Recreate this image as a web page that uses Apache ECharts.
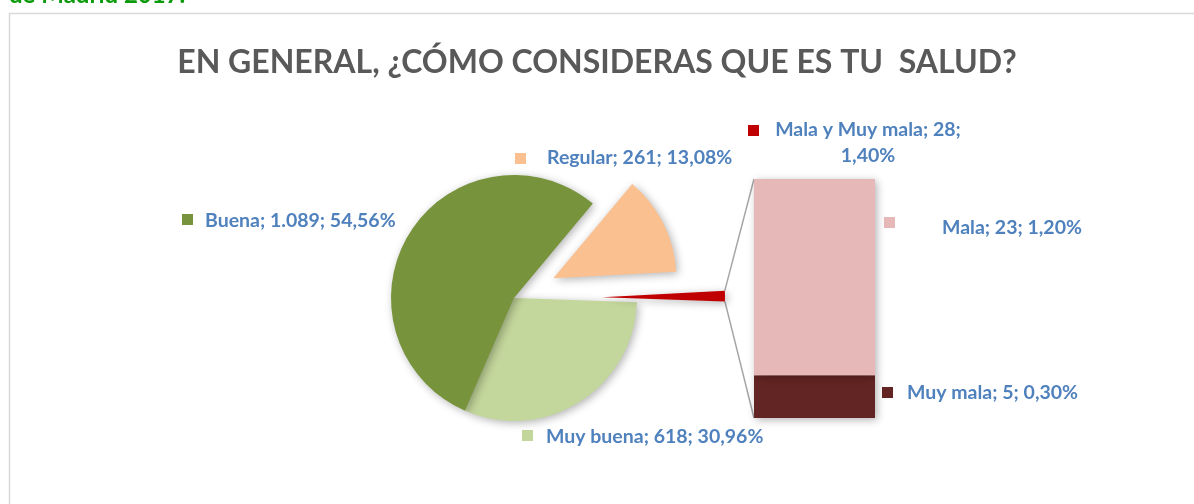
<!DOCTYPE html>
<html>
<head>
<meta charset="utf-8">
<script src="https://cdn.jsdelivr.net/npm/echarts@6/dist/echarts.min.js"></script>
<style>
	html, body { margin: 0; padding: 0; background: #fff; }
	#chart { width: 1194px; height: 504px; }
</style>
</head>
<body>
<div id="chart"></div>
<script>
// datos de la encuesta
var pieNames = ['Muy buena', 'Buena', 'Regular', 'Mala y Muy mala'];
var pieValues = [618, 1089, 261, 28];
var piePercents = ['30,96%', '54,56%', '13,08%', '1,40%'];
var barNames = ['Muy mala', 'Mala'];
var barValues = [5, 23];
var barPercents = ['0,30%', '1,20%'];

var pieColors = ['#C3D69B', '#77933C', '#FAC090', '#C00000'];
var barColors = ['#632523', '#E6B9B8'];

var FONT = 'Lato, "Open Sans", sans-serif';
var LABEL_COLOR = '#4F81BD';
var CX = 514, CY = 298, R = 123, START = -2;
var OFFSET_REGULAR = 44, OFFSET_MALA = 88;
var BAR_LEFT = 754, BAR_TOP = 179, BAR_W = 121, BAR_H = 239;

// posiciones de las etiquetas (cuadro y texto)
var labelLayout = {
	'Buena': { sq: [182, 214], tx: [205, 221], align: 'left' },
	'Regular': { sq: [515, 153], tx: [547, 158], align: 'left' },
	'Mala y Muy mala': { sq: [748, 125], tx: [868, 143], align: 'center' },
	'Mala': { sq: [884, 217], tx: [942, 228], align: 'left' },
	'Muy mala': { sq: [882, 387], tx: [907, 393], align: 'left' },
	'Muy buena': { sq: [522, 430], tx: [546, 437], align: 'left' }
};

function fmt(v) {
	var s = String(v);
	return s.length > 3 ? s.slice(0, s.length - 3) + '.' + s.slice(-3) : s;
}

var shadow = { shadowBlur: 8, shadowColor: 'rgba(0,0,0,0.3)', shadowOffsetX: 2, shadowOffsetY: 2 };

function pieData(onlyLast) {
	return pieValues.map(function (v, i) {
		var isLast = i === pieValues.length - 1;
		var visible = onlyLast ? isLast : !isLast;
		var item = { name: pieNames[i], value: v };
		item.itemStyle = visible ? Object.assign({ color: pieColors[i] }, shadow) : { color: 'rgba(0,0,0,0)' };
		if ((onlyLast && isLast) || (!onlyLast && pieNames[i] === 'Regular')) item.selected = true;
		return item;
	});
}

var labels = [];
function addLabel(name, text, color) {
	var p = labelLayout[name];
	labels.push({
		type: 'rect', shape: { x: p.sq[0], y: p.sq[1], width: 11, height: 11 },
		style: { fill: color }, silent: true
	});
	labels.push({
		type: 'text', x: p.tx[0], y: p.tx[1], silent: true,
		style: {
			text: text, fill: LABEL_COLOR, font: 'bold 19.5px ' + FONT,
			textAlign: p.align, textVerticalAlign: 'middle', lineHeight: 26
		}
	});
}
pieNames.forEach(function (n, i) {
	var t = n + '; ' + fmt(pieValues[i]) + '; ' + piePercents[i];
	if (n === 'Mala y Muy mala') t = n + '; ' + fmt(pieValues[i]) + ';\n' + piePercents[i];
	addLabel(n, t, pieColors[i]);
});
barNames.forEach(function (n, i) {
	addLabel(n, n + '; ' + fmt(barValues[i]) + '; ' + barPercents[i], barColors[i]);
});

var chart = echarts.init(document.getElementById('chart'));
var option = {
	animation: false,
	title: {
		text: 'EN GENERAL, ¿CÓMO CONSIDERAS QUE ES TU  SALUD?',
		left: 'center',
		top: 42,
		textStyle: { color: '#595959', fontSize: 32, fontWeight: 'bold', fontFamily: FONT }
	},
	grid: { left: BAR_LEFT, top: BAR_TOP, width: BAR_W, height: BAR_H },
	xAxis: { type: 'category', data: ['Mala y Muy mala'], show: false },
	yAxis: { type: 'value', min: 0, max: 28, show: false },
	series: [
		{
			type: 'pie', center: [CX, CY], radius: R, startAngle: START,
			selectedMode: 'single', selectedOffset: OFFSET_REGULAR,
			label: { show: false }, labelLine: { show: false },
			emphasis: { disabled: true },
			data: pieData(false)
		},
		{
			type: 'pie', center: [CX, CY], radius: R, startAngle: START,
			selectedMode: 'single', selectedOffset: OFFSET_MALA,
			label: { show: false }, labelLine: { show: false },
			emphasis: { disabled: true },
			data: pieData(true)
		},
		{
			type: 'bar', stack: 'total', barWidth: '100%', name: barNames[0],
			itemStyle: Object.assign({ color: barColors[0] }, shadow),
			data: [barValues[0]]
		},
		{
			type: 'bar', stack: 'total', barWidth: '100%', name: barNames[1],
			itemStyle: Object.assign({ color: barColors[1] }, shadow),
			data: [barValues[1]]
		}
	]
};
chart.setOption(option);

// lineas de conexion entre el sector rojo y la barra
var total = pieValues.reduce(function (a, b) { return a + b; }, 0);
var before = pieValues.slice(0, 3).reduce(function (a, b) { return a + b; }, 0);
var a0 = (-START + 360 * before / total) * Math.PI / 180;
var a1 = (-START + 360) * Math.PI / 180;
var mid = (a0 + a1) / 2;
var ex = CX + OFFSET_MALA * Math.cos(mid), ey = CY + OFFSET_MALA * Math.sin(mid);
var p0 = [ex + R * Math.cos(a0), ey + R * Math.sin(a0)];
var p1 = [ex + R * Math.cos(a1), ey + R * Math.sin(a1)];
var yTop = chart.convertToPixel({ yAxisIndex: 0 }, 28);
var yBot = chart.convertToPixel({ yAxisIndex: 0 }, 0);

var graphics = [
	{ type: 'rect', shape: { x: 9.5, y: 13.5, width: 1300, height: 600 }, style: { fill: null, stroke: '#D9D9D9', lineWidth: 1.5 }, silent: true, z: -10 },
	{ type: 'text', x: 9, y: 7, silent: true, style: { text: 'de Madrid 2017.', fill: '#0A9A0A', font: 'bold 24px ' + FONT, textVerticalAlign: 'bottom' } },
	{ type: 'line', shape: { x1: p0[0], y1: p0[1], x2: BAR_LEFT, y2: yTop }, style: { stroke: '#A6A6A6', lineWidth: 1.5 }, silent: true },
	{ type: 'line', shape: { x1: p1[0], y1: p1[1], x2: BAR_LEFT, y2: yBot }, style: { stroke: '#A6A6A6', lineWidth: 1.5 }, silent: true }
].concat(labels);
chart.setOption({ graphic: graphics });
</script>
</body>
</html>
